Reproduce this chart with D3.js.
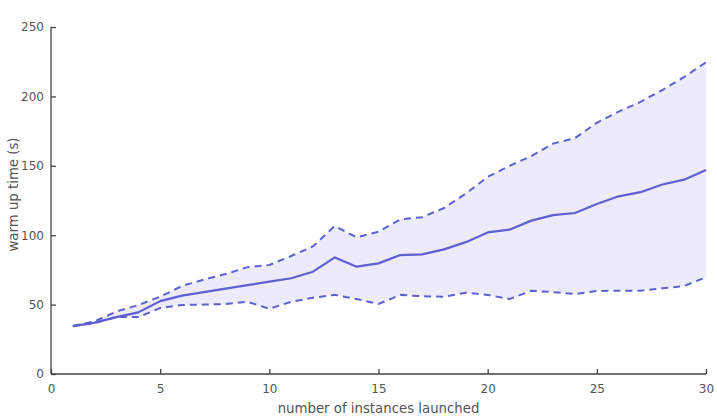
<!DOCTYPE html>
<html>
<head>
<meta charset="utf-8">
<script src="https://cdn.jsdelivr.net/npm/d3@7"></script>
<style>
  body { margin: 0; background: #fff; }
  text { font-family: "DejaVu Sans", sans-serif; }
</style>
</head>
<body>
<div id="chart"></div>
<script>
// number of instances launched
const instances = d3.range(1, 31);
const meanTime = [34.5, 37, 41, 44.4, 52.5, 56.5, 59, 61.5, 64, 66.5,
                  69, 73.7, 84, 77.3, 79.7, 85.7, 86.2, 89.8, 95, 102,
                  104, 110.5, 114.5, 116, 122.5, 128, 131, 136.5, 140, 147];
const upperTime = [34.5, 38, 45, 49.7, 55.7, 63.4, 68, 72, 77, 78.5,
                   85, 92, 106.6, 98.5, 102.5, 111.4, 113, 119.6, 130, 142,
                   150, 157, 166, 170, 181, 189, 196, 204.6, 214, 224.5];
const lowerTime = [34.5, 36.7, 41, 41, 47.5, 49.7, 50, 50.4, 52, 47,
                   52, 55, 57, 54, 50.4, 57, 56, 55.7, 58.6, 57,
                   54, 60, 59, 57.6, 59.8, 60, 60, 61.7, 63.4, 69.7];
const xTicks = [0, 5, 10, 15, 20, 25, 30];
const yTicks = [0, 50, 100, 150, 200, 250];

const data = instances.map((n, i) => ({n: n, mean: meanTime[i], hi: upperTime[i], lo: lowerTime[i]}));

const margin = {top: 27, right: 11, bottom: 44, left: 51},
      width = 717 - margin.left - margin.right,
      height = 418 - margin.top - margin.bottom;

const lineColor = "#5f5fd2";

const svg = d3.select("#chart")
    .append("svg")
    .attr("width", 717)
    .attr("height", 418)
    .append("g")
    .attr("transform", `translate(${margin.left},${margin.top})`);

const x = d3.scaleLinear().domain([0, 30]).range([0, width]);
const y = d3.scaleLinear().domain([0, 250]).range([height, 0]);

// band between bounds
svg.append("path")
    .datum(data)
    .attr("fill", "#ebebf9")
    .attr("d", d3.area().x(d => x(d.n)).y0(d => y(d.lo)).y1(d => y(d.hi)));

const line = key => d3.line().x(d => x(d.n)).y(d => y(d[key]));

["hi", "lo"].forEach(k => {
    svg.append("path")
        .datum(data)
        .attr("fill", "none")
        .attr("stroke", lineColor)
        .attr("stroke-width", 2)
        .attr("stroke-dasharray", "7,5")
        .attr("d", line(k));
});

svg.append("path")
    .datum(data)
    .attr("fill", "none")
    .attr("stroke", lineColor)
    .attr("stroke-width", 2.2)
    .attr("stroke-linejoin", "round")
    .attr("d", line("mean"));

// axes
const xAxis = d3.axisBottom(x).tickValues(xTicks).tickSize(-5).tickPadding(10);
const yAxis = d3.axisLeft(y).tickValues(yTicks).tickSize(-5).tickPadding(7);

const gx = svg.append("g")
    .attr("transform", `translate(0,${height})`)
    .call(xAxis);
const gy = svg.append("g").call(yAxis);

[gx, gy].forEach(g => {
    g.select(".domain").attr("stroke", "#444").attr("stroke-width", 1.3)
        .attr("d", g === gx ? `M0,0H${width}` : `M0,0V${height}`);
    g.selectAll(".tick line").attr("stroke", "#444").attr("stroke-width", 1.3);
    g.selectAll("text")
        .style("font-size", "12px")
        .attr("fill", "#555");
});

svg.append("text")
    .attr("x", width / 2)
    .attr("y", height + 39)
    .attr("text-anchor", "middle")
    .style("font-size", "13.3px")
    .attr("fill", "#555")
    .text("number of instances launched");

svg.append("text")
    .attr("transform", `translate(${-33},${height / 2 - 6}) rotate(-90)`)
    .attr("text-anchor", "middle")
    .style("font-size", "13.3px")
    .attr("fill", "#555")
    .text("warm up time (s)");
</script>
</body>
</html>
